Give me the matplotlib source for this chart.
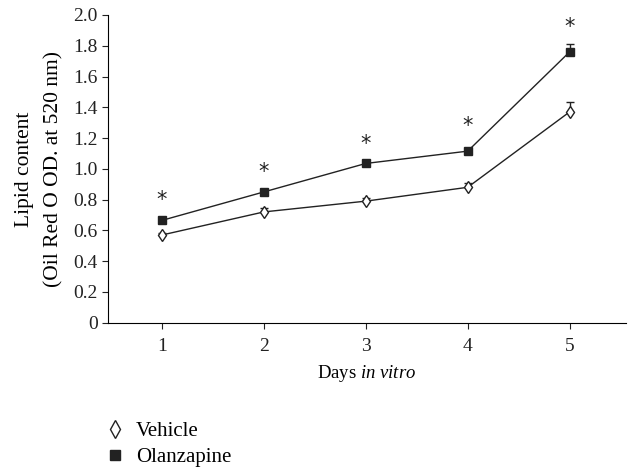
import matplotlib
matplotlib.use("Agg")
import matplotlib.pyplot as plt
from matplotlib.lines import Line2D

plt.rcParams['font.family'] = ['Liberation Serif', 'DejaVu Serif']
plt.rcParams['mathtext.fontset'] = 'custom'
plt.rcParams['mathtext.rm'] = 'Liberation Serif'
plt.rcParams['mathtext.it'] = 'Liberation Serif:italic'

days = [1, 2, 3, 4, 5]
vehicle = [0.57, 0.72, 0.79, 0.88, 1.37]
vehicle_err = [0.015, 0.025, 0.02, 0.025, 0.065]
olanzapine = [0.665, 0.85, 1.035, 1.115, 1.76]
olanzapine_err = [0.015, 0.015, 0.01, 0.01, 0.05]
star_y = [0.80, 0.98, 1.16, 1.28, 1.925]
yticks = [0, 0.2, 0.4, 0.6, 0.8, 1.0, 1.2, 1.4, 1.6, 1.8, 2.0]
ytick_labels = ["0", "0.2", "0.4", "0.6", "0.8", "1.0", "1.2", "1.4", "1.6", "1.8", "2.0"]

fig = plt.figure(figsize=(6.29, 4.68), dpi=100)
ax = fig.add_axes([0.1717, 0.3105, 0.823, 0.6575])

ax.errorbar(days, olanzapine, yerr=[[0]*5, olanzapine_err], color='#222222', lw=1.0,
            marker='s', ms=6, mfc='#222222', mec='#222222', capsize=3, elinewidth=1.0,
            capthick=1.0, zorder=3)
ax.errorbar(days, vehicle, yerr=[[0]*5, vehicle_err], color='#222222', lw=1.0,
            marker='d', ms=6, mfc='white', mec='#222222', mew=1.0, capsize=3,
            elinewidth=1.0, capthick=1.0, zorder=3)

for d, s in zip(days, star_y):
    ax.text(d, s, "*", ha='center', va='center', fontsize=15, color='#222222',
            family='DejaVu Sans')

ax.set_xlim(0.47, 5.55)
ax.set_ylim(0, 2.0)
ax.set_xticks(days)
ax.set_yticks(yticks)
ax.set_yticklabels(ytick_labels)
ax.tick_params(labelsize=14, direction='out', length=4, width=0.8, colors='#222222')
ax.tick_params(axis='x', pad=7)
for side in ['top', 'right']:
    ax.spines[side].set_visible(False)
for side in ['left', 'bottom']:
    ax.spines[side].set_linewidth(0.8)

ax.set_xlabel("Days $\\it{in\\ vitro}$", fontsize=13.5, labelpad=6)
ax.set_ylabel("Lipid content\n(Oil Red O OD. at 520 nm)", fontsize=15.5, labelpad=7,
              linespacing=1.7)

handles = [
    Line2D([], [], ls='none', marker='d', ms=9, mfc='white', mec='#222222', mew=1.0),
    Line2D([], [], ls='none', marker='s', ms=6.5, mfc='#222222', mec='#222222'),
]
fig.legend(handles, ["Vehicle", "Olanzapine"], loc='upper left',
           bbox_to_anchor=(0.14, 0.139), frameon=False, fontsize=15,
           handlelength=0.8, handletextpad=0.6, labelspacing=0.3)

fig.savefig("out.png", dpi=100)
